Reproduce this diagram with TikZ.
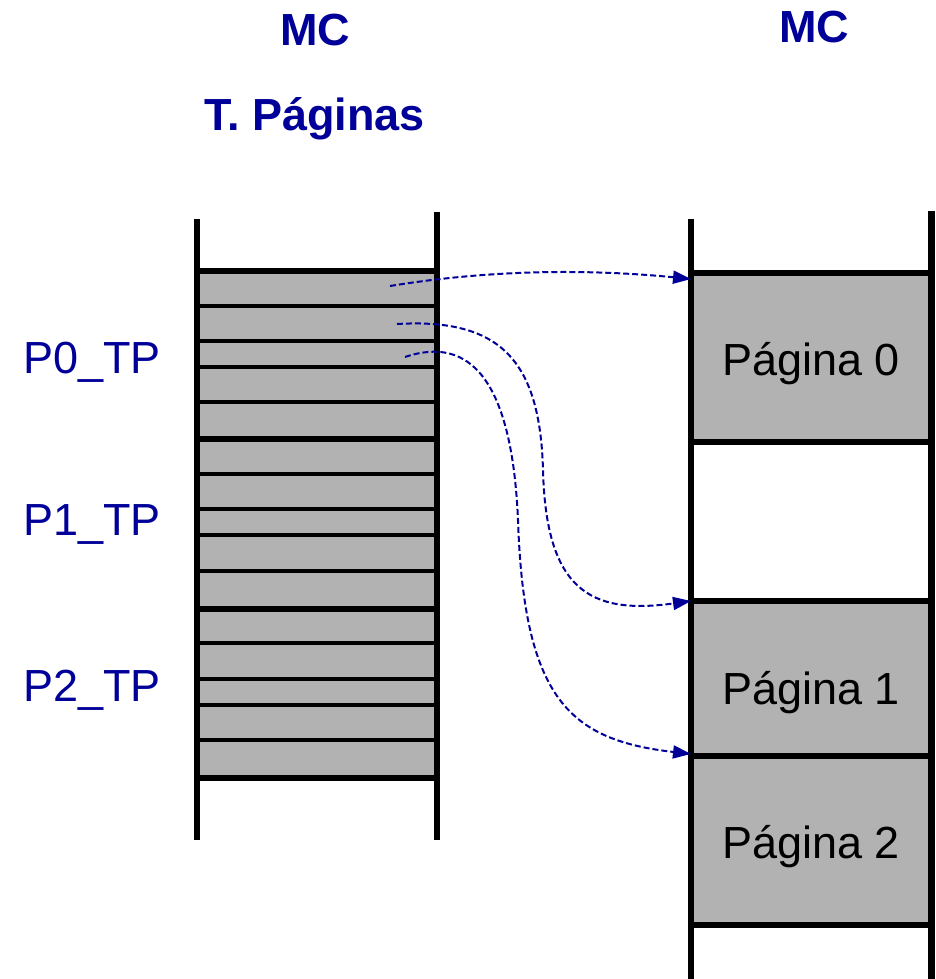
\documentclass[tikz,border=0pt]{standalone}
\usepackage{fontspec}
\setmainfont{Liberation Sans}
\usetikzlibrary{arrows.meta}

\definecolor{azul}{RGB}{0,0,153}
\definecolor{gris}{RGB}{178,178,178}

\tikzset{
  titulo/.style={text=azul, font=\fontsize{45}{54}\selectfont\bfseries, inner sep=0pt, anchor=base},
  etiqueta/.style={text=azul, font=\fontsize{45}{54}\selectfont, inner sep=0pt, anchor=base west},
  textopag/.style={font=\fontsize{45}{54}\selectfont, inner sep=0pt, anchor=base},
  pagina/.style={draw=black, line width=5.5pt, fill=gris, minimum width=240pt,
    inner sep=0pt, outer sep=0pt, anchor=north west},
  enlace/.style={draw=azul, line width=2pt, dash pattern=on 6pt off 3pt,
    -{Triangle[length=18pt,width=13pt]}},
  borde/.style={line width=6.5pt}
}

\begin{document}
\begin{tikzpicture}[x=1pt,y=-1pt]
\useasboundingbox (0,0) rectangle (935,979);

% titulos
\node[titulo] (mc1) at (315,46) {MC};
\node[titulo] (tp) at (315,130) {T. Páginas};
\node[titulo] (mc2) at (814,43) {MC};

% tabla de paginas
\fill[gris] (197,271) rectangle (437,778);
\foreach \y in {306,341,367,402,474,509,535,571,643,679,705,740}
  \draw[line width=3.5pt] (197,\y) -- (437,\y);
\foreach \y in {271,439,609,778}
  \draw[line width=6pt] (197,\y) -- (437,\y);
\draw[borde] (197,219) -- (197,840);
\draw[borde] (437,212) -- (437,840);

\node[etiqueta] (p0) at (23,373) {P0\_TP};
\node[etiqueta] (p1) at (23,535) {P1\_TP};
\node[etiqueta] (p2) at (23,701) {P2\_TP};

% memoria
\node[pagina, minimum height=169pt] (pag0) at (691,273) {};
\node[pagina, minimum height=155pt] (pag1) at (691,601) {};
\node[pagina, minimum height=169pt] (pag2) at (691,756) {};
\draw[line width=5.5pt] (691,925) -- (931.5,925);
\draw[borde] (691,219) -- (691,979);
\draw[borde] (931.5,211) -- (931.5,979);

\node[textopag] (t0) at (811,375) {Página 0};
\node[textopag] (t1) at (811,704) {Página 1};
\node[textopag] (t2) at (811,858) {Página 2};

% enlaces
\coordinate (e0) at (390,286);
\coordinate (e1) at (397,324);
\coordinate (e2) at (405,357);
\draw[enlace] (e0) .. controls (500,268) and (600,270) .. ([yshift=-6pt]pag0.north west);
\draw[enlace] (e1) .. controls (500,318) and (540,360) .. (543,470)
  .. controls (546,590) and (590,615) .. (pag1.north west);
\draw[enlace] (e2) .. controls (470,335) and (512,380) .. (518,520)
  .. controls (524,700) and (570,740) .. ([yshift=2pt]pag2.north west);

\end{tikzpicture}
\end{document}
